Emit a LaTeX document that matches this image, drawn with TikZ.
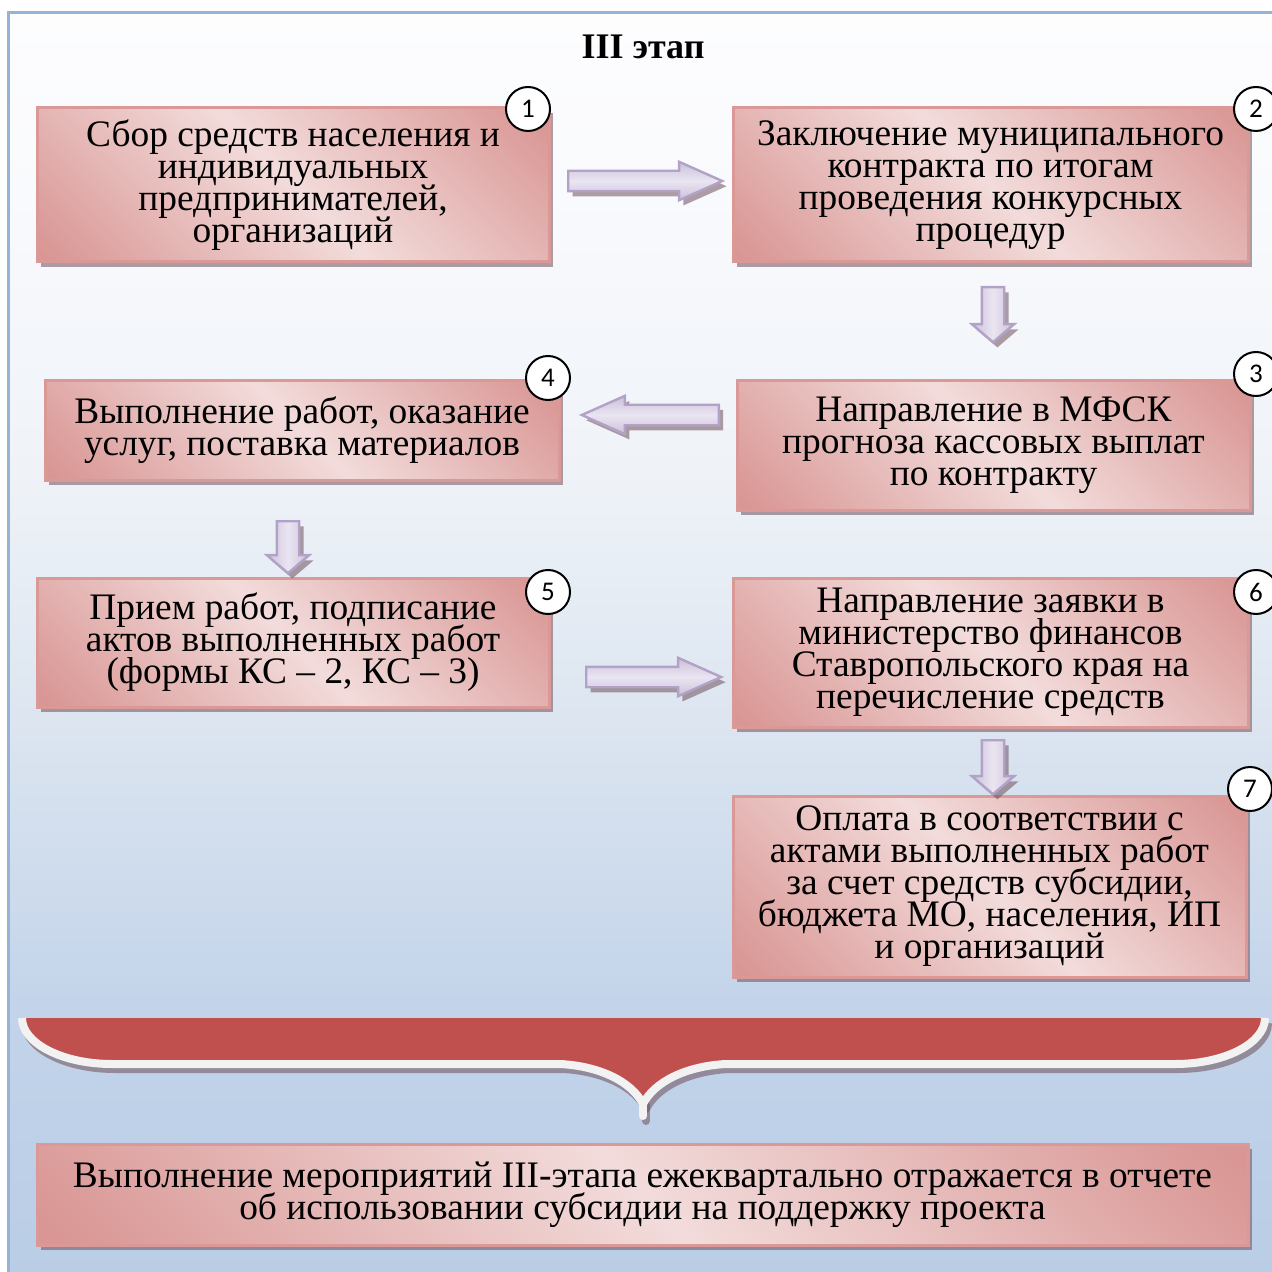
\documentclass[tikz,border=0pt]{standalone}
\usepackage{fontspec}
\setmainfont{Liberation Serif}
\newfontfamily\numfont{Carlito}
\usetikzlibrary{shapes.arrows,shadows,calc}

\definecolor{pinkdark}{HTML}{D99694}
\definecolor{pinklight}{HTML}{F2DCDB}
\definecolor{pinkborder}{HTML}{DA9896}
\definecolor{shadowc}{RGB}{110,80,90}
\definecolor{lavdark}{HTML}{CBC0DA}
\definecolor{lavlight}{HTML}{EAE5F1}
\definecolor{lavborder}{HTML}{B3A2C7}
\definecolor{framec}{HTML}{95B3D7}
\definecolor{bgA}{HTML}{B8CCE4}
\definecolor{bgB}{HTML}{B9CDE5}
\definecolor{bgC}{HTML}{C3D4EA}
\definecolor{bgD}{HTML}{DCE5F0}
\definecolor{bgE}{HTML}{EFF3F8}
\definecolor{bgF}{HTML}{F9FAFD}
\definecolor{bgG}{HTML}{FDFDFE}
\definecolor{bracered}{HTML}{C0504D}
\definecolor{bracewhite}{HTML}{F2F2F2}

\pgfdeclareverticalshading{bgshade}{100bp}{color(0bp)=(bgA); color(25bp)=(bgB); color(36bp)=(bgC); color(47bp)=(bgD); color(57bp)=(bgE); color(68bp)=(bgF); color(75bp)=(bgG); color(100bp)=(white)}
\pgfdeclareverticalshading{boxshade}{100bp}{color(0bp)=(pinkdark); color(16bp)=(pinkdark); color(50bp)=(pinklight); color(84bp)=(pinkdark); color(100bp)=(pinkdark)}

\newcommand\myboxfont{\fontsize{18.7}{16}\selectfont\lineskiplimit=-100pt\relax\lineskip=0pt\relax}

\tikzset{
  myshadow/.style={drop shadow={shadow xshift=2.2pt, shadow yshift=-2.6pt, fill=shadowc, opacity=.55}},
  box/.style={draw=pinkborder, line width=1.5pt, shading=boxshade, shading angle=-45,
    align=center, font=\myboxfont, inner sep=0pt, myshadow},
  numc/.style={circle, draw=black, line width=1pt, fill=white, minimum size=22pt,
    inner sep=0pt, font=\numfont\fontsize{13.5}{14}\selectfont},
  harrow/.style={single arrow, draw=lavborder, line width=1.2pt,
    top color=lavdark, bottom color=lavdark, middle color=lavlight,
    inner sep=4.5pt, single arrow head extend=4.5pt,
    single arrow tip angle=48, myshadow},
  varrow/.style={single arrow, draw=lavborder, line width=1.2pt, shape border rotate=270,
    left color=lavdark, right color=lavdark, middle color=lavlight,
    inner sep=5pt, single arrow head extend=5pt,
    single arrow tip angle=99, myshadow},
}

\begin{document}
\begin{tikzpicture}[x=0.5pt, y=-0.5pt]
\useasboundingbox (0,0) rectangle (1272,1272);
\clip (0,0) rectangle (1272,1272);
\fill[white] (0,0) rectangle (1272,1272);
\shade[shading=bgshade] (8,13) rectangle (1280,1280);
\draw[framec, line width=1.5pt] (8,13) rectangle (1280,1280);

\node[font=\bfseries\fontsize{18}{20}\selectfont] (title) at (643,47) {III этап};

% boxes
\node[box, minimum width=256pt, minimum height=77pt] (b1) at (293,185)
  {Сбор средств населения и\\индивидуальных\\предпринимателей,\\организаций};
\node[box, minimum width=257.5pt, minimum height=77pt] (b2) at (990.5,185)
  {Заключение муниципального\\контракта по итогам\\проведения конкурсных\\процедур};
\node[box, minimum width=256.5pt, minimum height=64.5pt] (b3) at (993.5,445.5)
  {Направление в МФСК\\прогноза кассовых выплат\\по контракту};
\node[box, minimum width=257pt, minimum height=49.5pt] (b4) at (302,430.5)
  {Выполнение работ, оказание\\услуг, поставка материалов};
\node[box, minimum width=256pt, minimum height=64.5pt] (b5) at (293,642.5)
  {Прием работ, подписание\\актов выполненных работ\\(формы КС – 2, КС – 3)};
\node[box, minimum width=257.5pt, minimum height=74.5pt] (b6) at (990.5,652.5)
  {Направление заявки в\\министерство финансов\\Ставропольского края на\\перечисление средств};
\node[box, minimum width=256.5pt, minimum height=90.5pt] (b7) at (989.5,886.5)
  {Оплата в соответствии с\\актами выполненных работ\\за счет средств субсидии,\\бюджета МО, населения, ИП\\и организаций};
\node[box, minimum width=605.5pt, minimum height=50.5pt] (b8) at (642.5,1194.5)
  {Выполнение мероприятий III-этапа ежеквартально отражается в отчете\\об использовании субсидии на поддержку проекта};

% number circles
\node[numc] (n1) at (528,109) {1};
\node[numc] (n2) at (1256,109) {2};
\node[numc] (n3) at (1256,374) {3};
\node[numc] (n4) at (548,378) {4};
\node[numc] (n5) at (548,592) {5};
\node[numc] (n6) at (1256,592) {6};
\node[numc] (n7) at (1250,789) {7};

% block arrows
\node[harrow, minimum height=77pt, anchor=tail] (a12) at (567,181) {};
\node[varrow, minimum height=27.5pt, anchor=tail] (a23) at (993,286) {};
\node[harrow, minimum height=68.5pt, shape border rotate=180, anchor=tail] (a34) at (720,415) {};
\node[varrow, minimum height=26pt, anchor=tail] (a45) at (288,520) {};
\node[harrow, minimum height=67.5pt, anchor=tail] (a56) at (585,677) {};
\node[varrow, minimum height=27pt, anchor=tail] (a67) at (993,739) {};

% brace
\def\bracepath{(22,1018) .. controls (22,1043) and (62,1064) .. (112,1064) -- (560,1064) .. controls (600,1066) and (632,1082) .. (643,1104) .. controls (654,1082) and (686,1066) .. (726,1064) -- (1175,1064) .. controls (1225,1064) and (1265,1043) .. (1265,1018)}
\begin{scope}[shift={(3,5)}]
  \draw[shadowc, opacity=.55, line width=4pt, line join=round] \bracepath;
  \draw[shadowc, opacity=.55, line width=4pt, line cap=round] (643,1100) -- (643,1116);
\end{scope}
\fill[bracered] \bracepath -- cycle;
\draw[bracewhite, line width=4pt, line join=round] \bracepath;
\draw[bracewhite, line width=4pt, line cap=round] (643,1100) -- (643,1116);
\end{tikzpicture}
\end{document}
